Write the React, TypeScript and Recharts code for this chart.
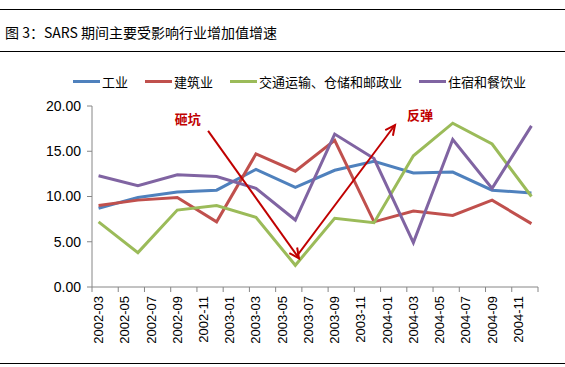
import { LineChart, Line, XAxis, YAxis, Legend, ReferenceLine, ReferenceDot } from 'recharts'

// x-axis labels (every two months)
const tickLabels = [
  '2002-03', '2002-05', '2002-07', '2002-09', '2002-11', '2003-01', '2003-03', '2003-05', '2003-07',
  '2003-09', '2003-11', '2004-01', '2004-03', '2004-05', '2004-07', '2004-09', '2004-11',
]
// quarterly data periods
const periods = [
  '2002-03', '2002-06', '2002-09', '2002-12', '2003-03', '2003-06',
  '2003-09', '2003-12', '2004-03', '2004-06', '2004-09', '2004-12',
]
const industry = [8.7, 9.9, 10.5, 10.7, 13.0, 11.0, 12.9, 13.9, 12.6, 12.7, 10.7, 10.4]
const construction = [9.0, 9.6, 9.9, 7.2, 14.7, 12.8, 16.2, 7.2, 8.4, 7.9, 9.6, 7.0]
const transport = [7.2, 3.8, 8.5, 9.0, 7.7, 2.4, 7.6, 7.1, 14.5, 18.1, 15.8, 10.0]
const hotel = [12.3, 11.2, 12.4, 12.2, 10.9, 7.4, 16.9, 14.2, 4.9, 16.3, 10.9, 17.8]
const yTicks = [0, 5, 10, 15, 20]

const SERIES = [
  { key: 'industry', name: '工业', color: '#4F81BD' },
  { key: 'construction', name: '建筑业', color: '#C0504D' },
  { key: 'transport', name: '交通运输、仓储和邮政业', color: '#9BBB59' },
  { key: 'hotel', name: '住宿和餐饮业', color: '#8064A2' },
]

// annotation arrows / labels in data units (month index, value)
const dropArrow = [{ x: 8.85, y: 17.25 }, { x: 15.78, y: 3.17 }]
const reboundArrow = [{ x: 15.6, y: 3.4 }, { x: 23.1, y: 17.9 }]
const notes = [
  { x: 7.3, y: 18.5, text: '砸坑' },
  { x: 25.0, y: 18.9, text: '反弹' },
]

const W = 565
const H = 367
const M = { top: 106, right: 27, bottom: 20, left: 0 }
const Y_W = 92
const X_H = 60
const monthIdx = (s: string) => {
  const [y, m] = s.split('-').map(Number)
  return (y - 2002) * 12 + (m - 3)
}
const MONTHS = 34
const monthPx = (W - M.left - M.right - Y_W) / MONTHS

const data = periods.map((p, i) => ({
  x: monthIdx(p) + 0.5,
  industry: industry[i],
  construction: construction[i],
  transport: transport[i],
  hotel: hotel[i],
}))
const xTicks = [...tickLabels.map(monthIdx), MONTHS]

const FONT = '"Liberation Sans", "Noto Sans CJK SC", sans-serif'
const RED = '#C00000'

const XTick = (props: any) => {
  const { x, y, payload } = props
  const i = xTicks.indexOf(payload.value)
  if (i < 0 || i >= tickLabels.length) return null
  return (
    <text
      transform={`translate(${x + monthPx / 2},${y}) rotate(-90)`}
      textAnchor="end"
      dominantBaseline="central"
      fontSize={13}
      fontFamily={FONT}
      fill="#000"
    >
      {tickLabels[i]}
    </text>
  )
}

const Arrow = (props: any) => {
  const { x1, y1, x2, y2 } = props
  const a = Math.atan2(y2 - y1, x2 - x1)
  const len = 11
  const spread = 0.45
  const p1 = [x2 - len * Math.cos(a - spread), y2 - len * Math.sin(a - spread)]
  const p2 = [x2 - len * Math.cos(a + spread), y2 - len * Math.sin(a + spread)]
  return (
    <g stroke={RED} strokeWidth={2} fill="none">
      <line x1={x1} y1={y1} x2={x2} y2={y2} />
      <polyline points={`${p1[0]},${p1[1]} ${x2},${y2} ${p2[0]},${p2[1]}`} />
    </g>
  )
}

const noteShape = (text: string) => (props: any) => (
  <text
    x={props.cx}
    y={props.cy}
    textAnchor="middle"
    dominantBaseline="central"
    fontSize={13}
    fontWeight="bold"
    fontFamily={FONT}
    fill={RED}
  >
    {text}
  </text>
)

const LegendContent = () => (
  <div style={{ display: 'flex', alignItems: 'center', fontFamily: FONT, fontSize: 13, color: '#000' }}>
    {SERIES.map(s => (
      <div key={s.key} style={{ display: 'flex', alignItems: 'center', marginRight: 17 }}>
        <span style={{ display: 'inline-block', width: 27, height: 3, background: s.color, marginRight: 2 }} />
        <span>{s.name}</span>
      </div>
    ))}
  </div>
)

export default function App() {
  return (
    <div style={{ position: 'absolute', left: 0, top: 0, width: W, height: H, background: '#fff' }}>
      <div style={{ position: 'absolute', left: 0, top: 9, width: W, borderTop: '1px solid #000' }} />
      <div
        style={{
          position: 'absolute', left: 5, top: 22, fontSize: 14, lineHeight: '20px',
          fontFamily: '"Noto Sans CJK SC", sans-serif', color: '#000', whiteSpace: 'nowrap',
        }}
      >
        图 3：SARS 期间主要受影响行业增加值增速
      </div>
      <div style={{ position: 'absolute', left: 0, top: 51, width: W, borderTop: '1px solid #000' }} />
      <div style={{ position: 'absolute', left: 0, top: 363, width: W, borderTop: '1px solid #000' }} />
      <div style={{ position: 'absolute', left: 0, top: 0 }}>
        <LineChart width={W} height={H} data={data} margin={M}>
          <XAxis
            dataKey="x"
            type="number"
            domain={[0, MONTHS]}
            ticks={xTicks}
            interval={0}
            height={X_H}
            tick={<XTick />}
            tickSize={5}
            tickMargin={4}
            axisLine={{ stroke: '#868686' }}
            tickLine={{ stroke: '#868686' }}
          />
          <YAxis
            domain={[0, 20]}
            ticks={yTicks}
            width={Y_W}
            tickSize={5}
            tickMargin={6}
            tick={{ fill: '#000', fontSize: 14, fontFamily: FONT }}
            tickFormatter={(v: number) => v.toFixed(2)}
            axisLine={{ stroke: '#868686' }}
            tickLine={{ stroke: '#868686' }}
          />
          <Legend
            layout="horizontal"
            verticalAlign="middle"
            align="center"
            wrapperStyle={{ top: 72, left: 73, width: 480 }}
            content={<LegendContent />}
          />
          {SERIES.map(s => (
            <Line
              key={s.key}
              type="linear"
              dataKey={s.key}
              name={s.name}
              stroke={s.color}
              strokeWidth={3}
              dot={false}
              activeDot={false}
              isAnimationActive={false}
            />
          ))}
          <ReferenceLine segment={dropArrow} shape={Arrow} />
          <ReferenceLine segment={reboundArrow} shape={Arrow} />
          {notes.map(n => (
            <ReferenceDot key={n.text} x={n.x} y={n.y} r={0} shape={noteShape(n.text)} />
          ))}
        </LineChart>
      </div>
    </div>
  )
}
